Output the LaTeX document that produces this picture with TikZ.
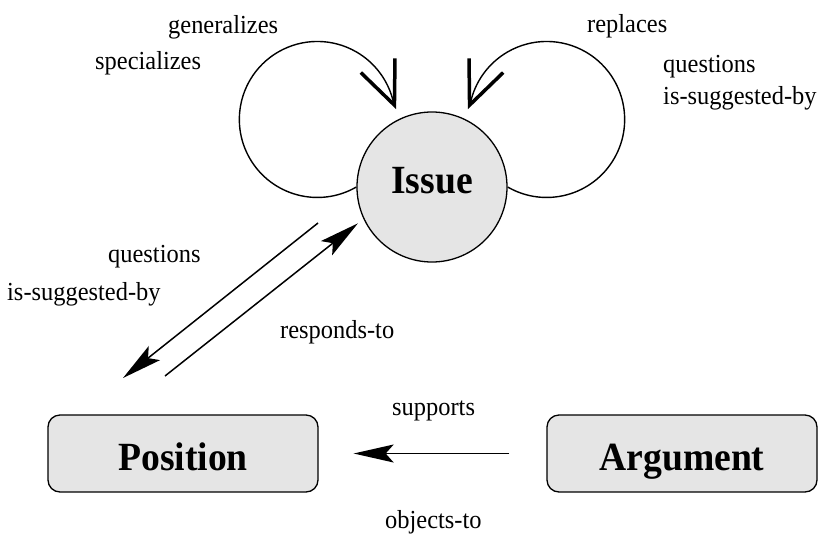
\documentclass[tikz,border=0pt]{standalone}
\usepackage{fontspec}
\setmainfont{Liberation Serif}
\newfontfamily\narrowserif[FakeStretch=0.94]{Liberation Serif}
\usetikzlibrary{arrows.meta}
\definecolor{nodegray}{gray}{0.9}
\tikzset{
  concept/.style={draw, fill=nodegray, line width=1.3pt, inner sep=0pt,
    font=\narrowserif\fontsize{40}{42}\selectfont\bfseries},
  conceptbox/.style={concept, rounded corners=12pt, minimum width=270pt,
    minimum height=77pt, text height=34pt, text depth=0pt},
  relname/.style={anchor=base west, inner sep=0pt,
    font=\narrowserif\fontsize{26}{28}\selectfont},
  loopline/.style={line width=1.4pt,
    -{Straight Barb[length=43pt, width=37pt, line width=3.5pt]}},
  linkline/.style={line width=1.5pt,
    -{Stealth[length=40pt, width=18pt, inset=8pt]}}
}
\begin{document}
\begin{tikzpicture}[x=1pt, y=-1pt]
  \useasboundingbox (0,0) rectangle (819,536);
  % 节点
  \node[concept, circle, minimum size=150pt, text height=27pt, text depth=15pt] (issue) at (432,187) {Issue};
  \node[conceptbox] (position) at (183,453.5) {Position};
  \node[conceptbox] (argument) at (682,453.5) {Argument};

  % 自环
  \draw[loopline] (issue.west) arc[start angle=-60, end angle=-348, radius=78pt] -- ++(2.5,6);
  \draw[loopline] (issue.east) arc[start angle=240, end angle=528, radius=78pt] -- ++(-2.5,6);
  \node[relname] (lgen) at (168,33) {generalizes};
  \node[relname] (lspec) at (95,69) {specializes};
  \node[relname] (lrepl) at (587,32) {replaces};
  \node[relname] (lquesr) at (663,72) {questions};
  \node[relname] (lsuggr) at (663,104) {is-suggested-by};

  % Issue 与 Position 之间
  \coordinate (qa) at (318,223);
  \coordinate (qb) at (123,378);
  \coordinate (ra) at (165,376);
  \draw[linkline] (qa) -- (qb);
  \draw[linkline, shorten >=7pt] (ra) -- (issue.205);
  \node[relname] (lquesl) at (108,262) {questions};
  \node[relname] (lsuggl) at (7,300) {is-suggested-by};
  \node[relname] (lresp) at (280,338) {responds-to};

  % Argument 到 Position
  \draw[linkline, shorten <=37pt, shorten >=35pt] (argument) -- (position);
  \node[relname] (lsupp) at (392,415) {supports};
  \node[relname] (lobj) at (385,528) {objects-to};
\end{tikzpicture}
\end{document}
